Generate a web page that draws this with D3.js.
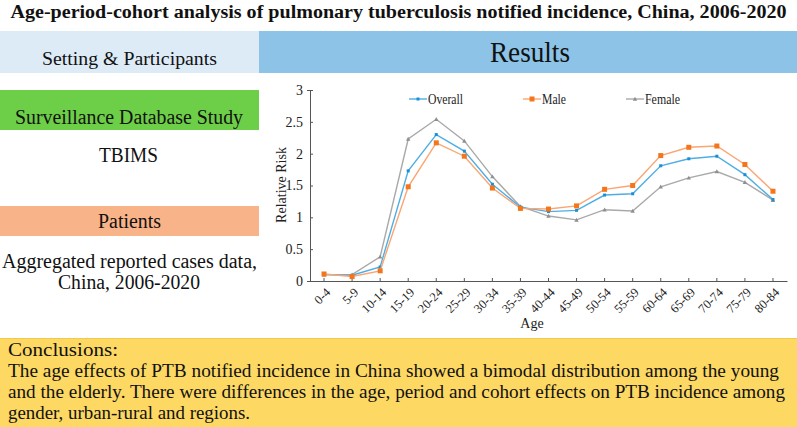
<!DOCTYPE html>
<html>
<head>
<meta charset="utf-8">
<script src="https://cdn.jsdelivr.net/npm/d3@7"></script>
<style>
  html, body { margin: 0; padding: 0; background: #fff; }
  svg { display: block; }
  text { font-family: "Liberation Serif", "Times New Roman", serif; }
</style>
</head>
<body>
<script>
const ageGroups = ["0-4","5-9","10-14","15-19","20-24","25-29","30-34","35-39","40-44","45-49","50-54","55-59","60-64","65-69","70-74","75-79","80-84"];
const overall = [0.10,0.09,0.22,1.73,2.30,2.04,1.52,1.16,1.09,1.11,1.35,1.37,1.81,1.92,1.96,1.67,1.28];
const male    = [0.11,0.07,0.16,1.48,2.17,1.96,1.46,1.14,1.13,1.18,1.44,1.50,1.97,2.10,2.12,1.83,1.41];
const female  = [0.10,0.10,0.38,2.23,2.54,2.20,1.64,1.17,1.02,0.96,1.12,1.10,1.48,1.62,1.72,1.55,1.27];
const yTicks = [0,0.5,1,1.5,2,2.5,3];
const seriesNames = ["Overall","Male","Female"];

const W = 797, H = 427;
const svg = d3.select("body").append("svg").attr("width", W).attr("height", H);

function txt(xp, yp, s, size, anchor, len, extra) {
  const t = svg.append("text").attr("x", xp).attr("y", yp).attr("font-size", size)
    .attr("fill", "#111").attr("text-anchor", anchor || "start").text(s);
  if (len) t.attr("textLength", len).attr("lengthAdjust", "spacingAndGlyphs");
  if (extra) extra(t);
  return t;
}

// Title
txt(398.5, 18, "Age-period-cohort analysis of pulmonary tuberculosis notified incidence, China, 2006-2020",
  18, "middle", 776, t => t.attr("font-weight", "bold"));

// Header boxes
svg.append("rect").attr("x", 0).attr("y", 31).attr("width", 259).attr("height", 42).attr("fill", "#ddebf7");
svg.append("rect").attr("x", 259).attr("y", 31).attr("width", 538).attr("height", 42).attr("fill", "#8dc3e7");
txt(129.5, 65, "Setting & Participants", 19, "middle", 175);
txt(530, 62, "Results", 30, "middle", 80);

// Left panel
svg.append("rect").attr("x", 0).attr("y", 90).attr("width", 259).attr("height", 40).attr("fill", "#6dcf47");
txt(129, 124, "Surveillance Database Study", 20, "middle", 228);
txt(128.5, 162, "TBIMS", 20, "middle", 59);
svg.append("rect").attr("x", 0).attr("y", 206).attr("width", 259).attr("height", 30).attr("fill", "#f9b388");
txt(129.5, 228, "Patients", 20, "middle", 63);
txt(129.5, 268, "Aggregated reported cases data,", 20, "middle", 255);
txt(129, 289, "China, 2006-2020", 20, "middle", 142);

// Conclusions
svg.append("rect").attr("x", 0).attr("y", 338).attr("width", W).attr("height", 89).attr("fill", "#fdd863");
svg.append("line").attr("x1", 0).attr("x2", W).attr("y1", 338.5).attr("y2", 338.5).attr("stroke", "#f3c94c").attr("stroke-width", 1);
const concl = [
  ["Conclusions:", 110],
  ["The age effects of PTB notified incidence in China showed a bimodal distribution among the young", 771],
  ["and the elderly. There were differences in the age, period and cohort effects on PTB incidence among", 777],
  ["gender, urban-rural and regions.", 242]
];
concl.forEach((c, i) => txt(8, 356 + i * 21, c[0], 19, "start", c[1]));

// Chart
const x = d3.scaleBand().domain(ageGroups).range([310, 787]);
const y = d3.scaleLinear().domain([0, 3]).range([281, 90]);
const cx = d => x(d) + x.bandwidth() / 2;

const g = svg.append("g");
// y axis
const yAxis = g.append("g").attr("transform", "translate(310,0)")
  .call(d3.axisLeft(y).tickValues(yTicks).tickSize(3).tickFormat(d => d3.format("")(d)));
yAxis.select(".domain").attr("stroke", "#555");
yAxis.selectAll(".tick line").attr("stroke", "#555").attr("x2", 3);
yAxis.selectAll("text").attr("font-family", "Liberation Serif, serif").attr("font-size", 14).attr("fill", "#222").attr("x", -7);

// x axis
const xAxis = g.append("g").attr("transform", "translate(0,281)")
  .call(d3.axisBottom(x).tickSizeInner(-3).tickSizeOuter(0));
xAxis.select(".domain").attr("stroke", "#555");
xAxis.selectAll(".tick line").attr("stroke", "#555");
xAxis.selectAll("text")
  .attr("font-family", "Liberation Serif, serif").attr("font-size", 12.5).attr("fill", "#222")
  .attr("text-anchor", "end").attr("dy", "0.35em")
  .attr("transform", "translate(4,9) rotate(-45)").attr("y", 0).attr("x", 0);

g.append("text").attr("x", 532).attr("y", 328).attr("text-anchor", "middle").attr("font-size", 14).attr("fill", "#222").text("Age");
g.append("text").attr("transform", "translate(286,185) rotate(-90)").attr("text-anchor", "middle")
  .attr("font-size", 14).attr("fill", "#222").text("Relative Risk");

const series = [
  {name: "Female", values: female, line: "#a9a9a9", mark: "#8f8f8f", shape: "tri", size: 2.2},
  {name: "Overall", values: overall, line: "#4eaee4", mark: "#1c8ed3", shape: "sq", size: 3},
  {name: "Male", values: male, line: "#f9a673", mark: "#f4761c", shape: "sq", size: 5}
];
const lineGen = d3.line().x((d, i) => cx(ageGroups[i])).y(d => y(d));

function drawMarker(sel, s, px, py) {
  if (s.shape === "sq") {
    sel.append("rect").attr("x", px - s.size / 2).attr("y", py - s.size / 2)
      .attr("width", s.size).attr("height", s.size).attr("fill", s.mark);
  } else {
    const r = s.size;
    sel.append("path").attr("d", `M${px},${py - r}L${px + r},${py + r * 0.8}L${px - r},${py + r * 0.8}Z`).attr("fill", s.mark);
  }
}

series.forEach(s => {
  g.append("path").datum(s.values).attr("d", lineGen).attr("fill", "none")
    .attr("stroke", s.line).attr("stroke-width", 1.4);
  const mg = g.append("g");
  s.values.forEach((v, i) => drawMarker(mg, s, cx(ageGroups[i]), y(v)));
});

// Legend
const legendPos = {Overall: 409, Male: 523, Female: 626};
const legendLen = {Overall: 35, Male: 24, Female: 35};
seriesNames.forEach(n => {
  const s = series.find(d => d.name === n);
  const lx = legendPos[n];
  g.append("line").attr("x1", lx).attr("x2", lx + 18).attr("y1", 99).attr("y2", 99)
    .attr("stroke", s.line).attr("stroke-width", 1.4);
  drawMarker(g, s, lx + 9, 99);
  g.append("text").attr("x", lx + 19).attr("y", 104).attr("font-size", 15).attr("fill", "#222")
    .attr("textLength", legendLen[n]).attr("lengthAdjust", "spacingAndGlyphs").text(n);
});
</script>
</body>
</html>
